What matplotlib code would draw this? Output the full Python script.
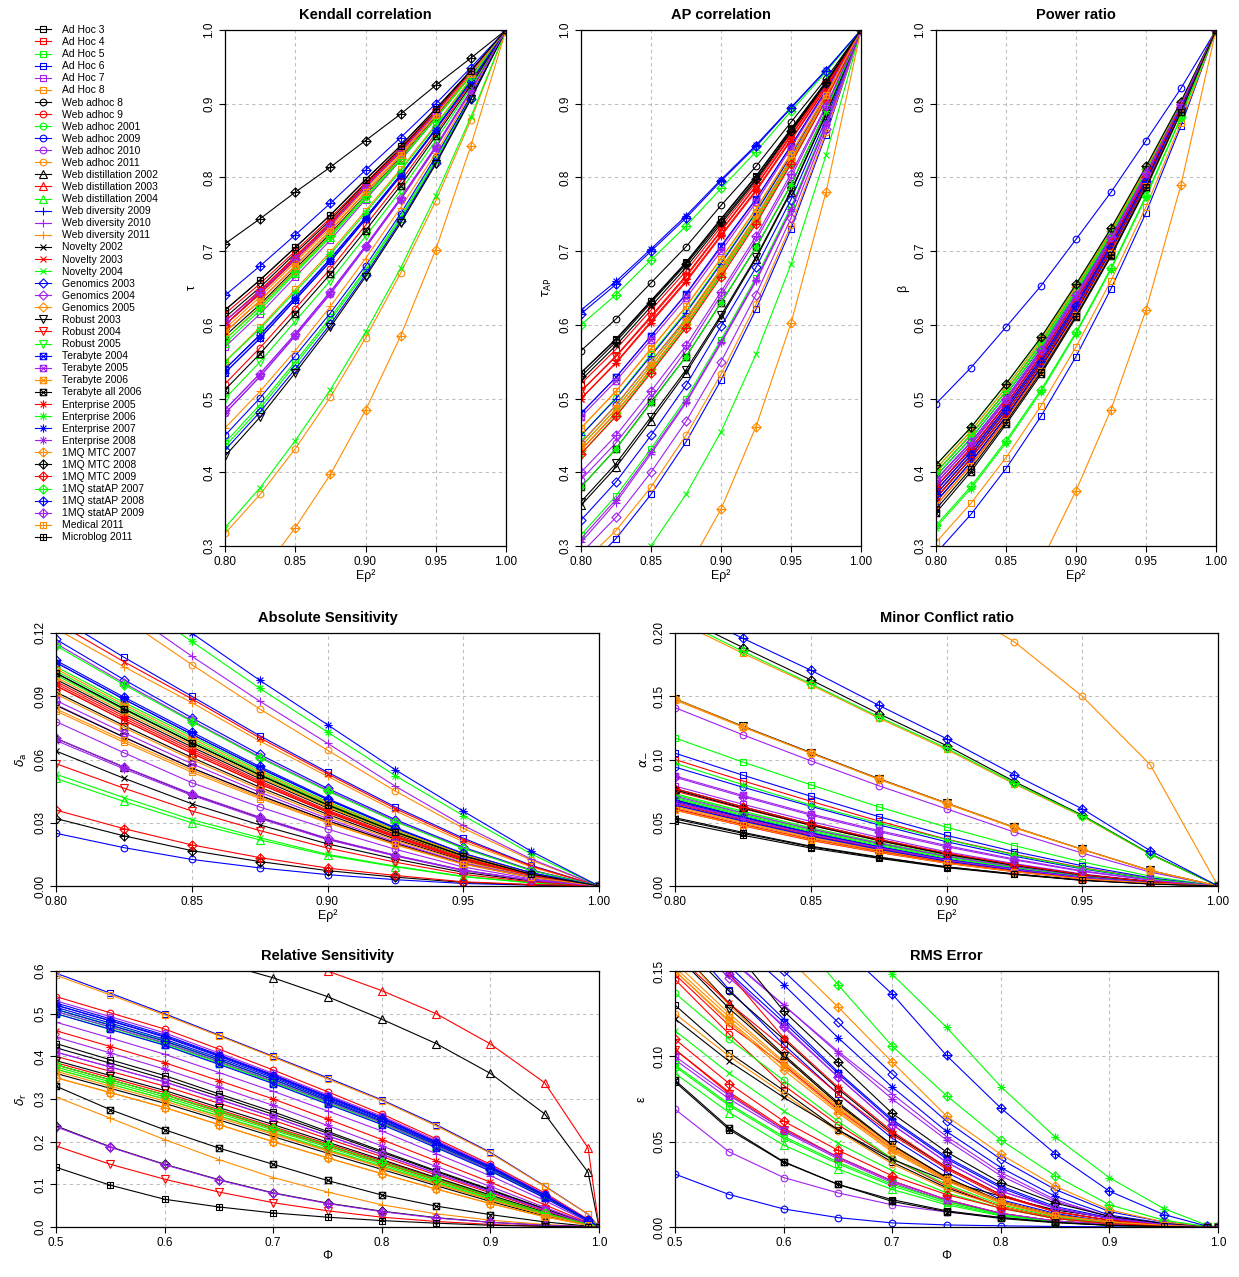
import numpy as np
import matplotlib
matplotlib.use("Agg")
import matplotlib.pyplot as plt
from matplotlib.path import Path

plt.rcParams['font.family'] = ['Liberation Sans', 'DejaVu Sans']
plt.rcParams['mathtext.fontset'] = 'dejavusans'

# ---- series (legend order) ----
names = ["Ad Hoc 3", "Ad Hoc 4", "Ad Hoc 5", "Ad Hoc 6", "Ad Hoc 7", "Ad Hoc 8",
         "Web adhoc 8", "Web adhoc 9", "Web adhoc 2001", "Web adhoc 2009", "Web adhoc 2010", "Web adhoc 2011",
         "Web distillation 2002", "Web distillation 2003", "Web distillation 2004",
         "Web diversity 2009", "Web diversity 2010", "Web diversity 2011",
         "Novelty 2002", "Novelty 2003", "Novelty 2004",
         "Genomics 2003", "Genomics 2004", "Genomics 2005",
         "Robust 2003", "Robust 2004", "Robust 2005",
         "Terabyte 2004", "Terabyte 2005", "Terabyte 2006", "Terabyte all 2006",
         "Enterprise 2005", "Enterprise 2006", "Enterprise 2007", "Enterprise 2008",
         "1MQ MTC 2007", "1MQ MTC 2008", "1MQ MTC 2009",
         "1MQ statAP 2007", "1MQ statAP 2008", "1MQ statAP 2009",
         "Medical 2011", "Microblog 2011"]
# R plotting symbol of each track
pch = [0]*6 + [1]*6 + [2]*3 + [3]*3 + [4]*3 + [5]*3 + [6]*3 + [7]*4 + [8]*4 + [9]*6 + [12]*2
palette = ["black", "red", "#00FF00", "blue", "#A020F0", "#FF8C00"]

# x grids where values were read
x_top = [0.80, 0.825, 0.85, 0.875, 0.90, 0.925, 0.95, 0.975, 1.00]
x_low = [0.5, 0.55, 0.6, 0.65, 0.7, 0.75, 0.8, 0.85, 0.9, 0.95, 0.99, 1.0]

# Kendall tau at Erho^2 = 0.800 ... 0.975 (1.0 at Erho^2 = 1)
kendall = [
    [0.620, 0.661, 0.705, 0.749, 0.797, 0.843, 0.893, 0.945],
    [0.615, 0.656, 0.700, 0.745, 0.793, 0.840, 0.890, 0.943],
    [0.440, 0.492, 0.550, 0.610, 0.675, 0.747, 0.825, 0.910],
    [0.535, 0.582, 0.634, 0.686, 0.743, 0.802, 0.865, 0.930],
    [0.570, 0.615, 0.665, 0.715, 0.770, 0.823, 0.880, 0.938],
    [0.550, 0.597, 0.648, 0.699, 0.755, 0.811, 0.872, 0.934],
    [0.585, 0.628, 0.676, 0.724, 0.776, 0.827, 0.882, 0.939],
    [0.520, 0.569, 0.622, 0.676, 0.735, 0.795, 0.860, 0.928],
    [0.435, 0.487, 0.546, 0.606, 0.672, 0.744, 0.823, 0.908],
    [0.450, 0.501, 0.558, 0.616, 0.680, 0.751, 0.828, 0.911],
    [0.480, 0.530, 0.585, 0.642, 0.705, 0.770, 0.840, 0.917],
    [0.317, 0.370, 0.432, 0.502, 0.582, 0.670, 0.768, 0.878],
    [0.600, 0.643, 0.690, 0.736, 0.787, 0.835, 0.888, 0.942],
    [0.605, 0.646, 0.692, 0.738, 0.789, 0.837, 0.889, 0.942],
    [0.575, 0.620, 0.670, 0.719, 0.772, 0.824, 0.880, 0.938],
    [0.540, 0.586, 0.637, 0.689, 0.745, 0.803, 0.866, 0.931],
    [0.485, 0.534, 0.588, 0.645, 0.707, 0.772, 0.842, 0.918],
    [0.460, 0.510, 0.565, 0.625, 0.690, 0.759, 0.833, 0.914],
    [0.610, 0.651, 0.697, 0.742, 0.792, 0.839, 0.890, 0.943],
    [0.590, 0.633, 0.680, 0.728, 0.780, 0.830, 0.885, 0.940],
    [0.325, 0.379, 0.443, 0.512, 0.590, 0.677, 0.775, 0.882],
    [0.430, 0.482, 0.540, 0.601, 0.668, 0.741, 0.820, 0.907],
    [0.485, 0.534, 0.587, 0.645, 0.707, 0.772, 0.842, 0.918],
    [0.580, 0.625, 0.674, 0.722, 0.775, 0.826, 0.881, 0.938],
    [0.422, 0.475, 0.535, 0.597, 0.665, 0.738, 0.818, 0.906],
    [0.600, 0.642, 0.688, 0.735, 0.786, 0.835, 0.888, 0.942],
    [0.500, 0.550, 0.605, 0.660, 0.720, 0.782, 0.850, 0.922],
    [0.540, 0.587, 0.638, 0.690, 0.746, 0.804, 0.866, 0.931],
    [0.600, 0.643, 0.690, 0.736, 0.787, 0.835, 0.888, 0.942],
    [0.595, 0.638, 0.685, 0.732, 0.784, 0.833, 0.886, 0.941],
    [0.512, 0.561, 0.615, 0.669, 0.728, 0.789, 0.856, 0.925],
    [0.605, 0.647, 0.693, 0.739, 0.790, 0.837, 0.889, 0.942],
    [0.550, 0.595, 0.645, 0.696, 0.752, 0.809, 0.870, 0.933],
    [0.535, 0.582, 0.634, 0.686, 0.743, 0.802, 0.865, 0.930],
    [0.480, 0.530, 0.585, 0.642, 0.705, 0.770, 0.840, 0.917],
    [0.210, 0.260, 0.325, 0.397, 0.484, 0.585, 0.702, 0.843],
    [0.710, 0.744, 0.780, 0.814, 0.850, 0.886, 0.925, 0.962],
    [0.600, 0.643, 0.690, 0.736, 0.787, 0.835, 0.888, 0.942],
    [0.580, 0.624, 0.672, 0.721, 0.775, 0.825, 0.880, 0.938],
    [0.640, 0.680, 0.722, 0.765, 0.810, 0.854, 0.900, 0.949],
    [0.605, 0.645, 0.690, 0.736, 0.787, 0.835, 0.887, 0.941],
    [0.590, 0.633, 0.680, 0.728, 0.780, 0.830, 0.885, 0.940],
    [0.620, 0.661, 0.705, 0.749, 0.797, 0.843, 0.893, 0.945]]

ap_corr = [
    [0.535, 0.580, 0.632, 0.684, 0.743, 0.801, 0.865, 0.929],
    [0.520, 0.567, 0.620, 0.673, 0.733, 0.793, 0.860, 0.927],
    [0.315, 0.368, 0.432, 0.500, 0.580, 0.664, 0.760, 0.874],
    [0.262, 0.310, 0.370, 0.441, 0.525, 0.621, 0.730, 0.858],
    [0.480, 0.529, 0.585, 0.641, 0.705, 0.770, 0.843, 0.918],
    [0.460, 0.510, 0.568, 0.625, 0.690, 0.757, 0.833, 0.913],
    [0.565, 0.608, 0.657, 0.706, 0.762, 0.815, 0.875, 0.934],
    [0.430, 0.481, 0.540, 0.601, 0.670, 0.741, 0.820, 0.906],
    [0.450, 0.501, 0.560, 0.618, 0.685, 0.753, 0.830, 0.911],
    [0.440, 0.491, 0.550, 0.608, 0.675, 0.746, 0.825, 0.908],
    [0.390, 0.440, 0.500, 0.565, 0.640, 0.715, 0.800, 0.895],
    [0.275, 0.321, 0.380, 0.450, 0.533, 0.628, 0.735, 0.861],
    [0.355, 0.407, 0.470, 0.535, 0.610, 0.690, 0.780, 0.885],
    [0.510, 0.558, 0.612, 0.667, 0.728, 0.789, 0.857, 0.925],
    [0.435, 0.486, 0.545, 0.606, 0.675, 0.745, 0.823, 0.907],
    [0.450, 0.500, 0.558, 0.616, 0.683, 0.752, 0.830, 0.911],
    [0.305, 0.359, 0.425, 0.494, 0.575, 0.659, 0.755, 0.871],
    [0.440, 0.491, 0.550, 0.609, 0.677, 0.747, 0.826, 0.909],
    [0.525, 0.572, 0.625, 0.678, 0.737, 0.796, 0.862, 0.928],
    [0.500, 0.549, 0.605, 0.660, 0.722, 0.783, 0.852, 0.922],
    [0.200, 0.242, 0.300, 0.370, 0.455, 0.560, 0.682, 0.830],
    [0.335, 0.387, 0.450, 0.518, 0.598, 0.678, 0.770, 0.879],
    [0.290, 0.339, 0.400, 0.469, 0.550, 0.641, 0.745, 0.866],
    [0.430, 0.481, 0.540, 0.601, 0.670, 0.741, 0.820, 0.906],
    [0.360, 0.412, 0.475, 0.539, 0.613, 0.692, 0.782, 0.886],
    [0.510, 0.557, 0.610, 0.665, 0.727, 0.788, 0.856, 0.925],
    [0.425, 0.477, 0.537, 0.598, 0.668, 0.740, 0.820, 0.906],
    [0.480, 0.529, 0.585, 0.642, 0.707, 0.771, 0.843, 0.918],
    [0.475, 0.524, 0.580, 0.636, 0.700, 0.766, 0.840, 0.916],
    [0.435, 0.486, 0.545, 0.605, 0.673, 0.743, 0.822, 0.907],
    [0.380, 0.432, 0.495, 0.557, 0.630, 0.705, 0.790, 0.890],
    [0.500, 0.548, 0.603, 0.658, 0.720, 0.781, 0.850, 0.921],
    [0.380, 0.432, 0.494, 0.557, 0.630, 0.705, 0.790, 0.890],
    [0.620, 0.659, 0.703, 0.748, 0.797, 0.844, 0.895, 0.946],
    [0.310, 0.363, 0.428, 0.496, 0.577, 0.661, 0.757, 0.872],
    [0.100, 0.140, 0.200, 0.265, 0.350, 0.462, 0.602, 0.780],
    [0.530, 0.577, 0.630, 0.682, 0.740, 0.798, 0.863, 0.928],
    [0.425, 0.476, 0.535, 0.596, 0.665, 0.737, 0.818, 0.905],
    [0.600, 0.641, 0.688, 0.734, 0.785, 0.835, 0.890, 0.943],
    [0.615, 0.655, 0.700, 0.745, 0.795, 0.842, 0.894, 0.945],
    [0.400, 0.450, 0.510, 0.572, 0.645, 0.720, 0.805, 0.897],
    [0.460, 0.510, 0.567, 0.625, 0.690, 0.757, 0.832, 0.912],
    [0.535, 0.581, 0.633, 0.685, 0.744, 0.802, 0.866, 0.930]]

power = [
    [0.370, 0.424, 0.485, 0.551, 0.625, 0.706, 0.795, 0.893],
    [0.365, 0.419, 0.480, 0.547, 0.622, 0.703, 0.793, 0.892],
    [0.390, 0.441, 0.500, 0.566, 0.640, 0.718, 0.805, 0.898],
    [0.290, 0.343, 0.405, 0.476, 0.557, 0.649, 0.752, 0.870],
    [0.380, 0.432, 0.492, 0.558, 0.632, 0.712, 0.800, 0.896],
    [0.305, 0.358, 0.420, 0.490, 0.570, 0.660, 0.760, 0.874],
    [0.400, 0.451, 0.510, 0.575, 0.648, 0.725, 0.810, 0.901],
    [0.385, 0.437, 0.497, 0.562, 0.636, 0.715, 0.803, 0.897],
    [0.405, 0.456, 0.515, 0.579, 0.652, 0.728, 0.812, 0.902],
    [0.493, 0.542, 0.597, 0.653, 0.716, 0.780, 0.850, 0.921],
    [0.390, 0.441, 0.500, 0.566, 0.640, 0.718, 0.805, 0.898],
    [0.360, 0.414, 0.476, 0.543, 0.618, 0.700, 0.790, 0.890],
    [0.375, 0.428, 0.488, 0.554, 0.628, 0.708, 0.797, 0.894],
    [0.380, 0.433, 0.493, 0.559, 0.633, 0.712, 0.800, 0.896],
    [0.410, 0.461, 0.520, 0.583, 0.655, 0.730, 0.814, 0.903],
    [0.395, 0.446, 0.505, 0.570, 0.644, 0.721, 0.807, 0.899],
    [0.385, 0.437, 0.497, 0.563, 0.637, 0.716, 0.803, 0.897],
    [0.400, 0.451, 0.510, 0.574, 0.647, 0.724, 0.810, 0.901],
    [0.360, 0.414, 0.475, 0.542, 0.617, 0.699, 0.790, 0.890],
    [0.355, 0.410, 0.472, 0.539, 0.615, 0.698, 0.789, 0.890],
    [0.400, 0.451, 0.510, 0.575, 0.648, 0.725, 0.810, 0.901],
    [0.380, 0.432, 0.492, 0.558, 0.632, 0.712, 0.800, 0.896],
    [0.390, 0.441, 0.500, 0.566, 0.640, 0.718, 0.805, 0.898],
    [0.405, 0.456, 0.515, 0.579, 0.652, 0.728, 0.812, 0.902],
    [0.365, 0.419, 0.480, 0.547, 0.622, 0.703, 0.793, 0.892],
    [0.370, 0.424, 0.485, 0.551, 0.625, 0.706, 0.795, 0.893],
    [0.395, 0.446, 0.505, 0.571, 0.645, 0.722, 0.807, 0.899],
    [0.360, 0.414, 0.476, 0.543, 0.618, 0.700, 0.790, 0.890],
    [0.375, 0.428, 0.488, 0.554, 0.628, 0.708, 0.797, 0.894],
    [0.370, 0.423, 0.484, 0.550, 0.625, 0.706, 0.795, 0.893],
    [0.345, 0.401, 0.465, 0.533, 0.610, 0.693, 0.785, 0.888],
    [0.365, 0.419, 0.480, 0.546, 0.621, 0.703, 0.793, 0.892],
    [0.325, 0.378, 0.440, 0.509, 0.588, 0.675, 0.773, 0.881],
    [0.375, 0.428, 0.488, 0.554, 0.628, 0.708, 0.797, 0.894],
    [0.385, 0.437, 0.497, 0.563, 0.637, 0.716, 0.803, 0.897],
    [0.080, 0.130, 0.200, 0.278, 0.375, 0.485, 0.620, 0.790],
    [0.410, 0.461, 0.520, 0.583, 0.655, 0.731, 0.815, 0.903],
    [0.380, 0.432, 0.492, 0.558, 0.632, 0.712, 0.800, 0.896],
    [0.328, 0.381, 0.443, 0.512, 0.590, 0.677, 0.775, 0.882],
    [0.370, 0.423, 0.484, 0.550, 0.625, 0.706, 0.795, 0.893],
    [0.390, 0.441, 0.500, 0.566, 0.640, 0.719, 0.806, 0.899],
    [0.355, 0.409, 0.470, 0.538, 0.614, 0.697, 0.788, 0.889],
    [0.350, 0.405, 0.468, 0.536, 0.612, 0.695, 0.787, 0.889]]

# absolute sensitivity (0 at Erho^2 = 1)
abs_sens = [
    [0.098, 0.0816, 0.066, 0.0509, 0.037, 0.0246, 0.0138, 0.0055],
    [0.095, 0.0786, 0.063, 0.0484, 0.035, 0.0231, 0.0127, 0.0051],
    [0.104, 0.0871, 0.071, 0.0549, 0.040, 0.0267, 0.0150, 0.0060],
    [0.128, 0.1085, 0.090, 0.0713, 0.054, 0.0375, 0.0227, 0.0098],
    [0.086, 0.0707, 0.056, 0.0430, 0.031, 0.0202, 0.0108, 0.0042],
    [0.083, 0.0682, 0.054, 0.0415, 0.030, 0.0195, 0.0103, 0.0040],
    [0.092, 0.0761, 0.061, 0.0469, 0.034, 0.0222, 0.0120, 0.0047],
    [0.097, 0.0806, 0.065, 0.0499, 0.036, 0.0239, 0.0133, 0.0052],
    [0.100, 0.0836, 0.068, 0.0524, 0.038, 0.0252, 0.0140, 0.0055],
    [0.025, 0.0182, 0.0126, 0.0086, 0.0054, 0.0030, 0.0012, 0.0004],
    [0.078, 0.0632, 0.049, 0.0375, 0.027, 0.0174, 0.0090, 0.0034],
    [0.150, 0.1270, 0.105, 0.0840, 0.0644, 0.0450, 0.0274, 0.0122],
    [0.070, 0.0564, 0.0435, 0.0325, 0.0224, 0.0145, 0.0075, 0.0027],
    [0.095, 0.0786, 0.063, 0.0484, 0.035, 0.0230, 0.0125, 0.0050],
    [0.051, 0.0401, 0.030, 0.0219, 0.0145, 0.0091, 0.0044, 0.0015],
    [0.106, 0.0886, 0.072, 0.0559, 0.041, 0.0274, 0.0153, 0.0062],
    [0.155, 0.1315, 0.109, 0.0877, 0.0677, 0.0473, 0.0287, 0.0128],
    [0.122, 0.1040, 0.087, 0.0688, 0.052, 0.0356, 0.0210, 0.0090],
    [0.064, 0.0511, 0.039, 0.0290, 0.020, 0.0128, 0.0065, 0.0024],
    [0.125, 0.1064, 0.0888, 0.0703, 0.0532, 0.0367, 0.0220, 0.0095],
    [0.053, 0.0419, 0.0315, 0.0229, 0.015, 0.0094, 0.0046, 0.0016],
    [0.117, 0.0979, 0.0798, 0.0624, 0.0463, 0.0315, 0.0184, 0.0076],
    [0.115, 0.0963, 0.0785, 0.0613, 0.0455, 0.0309, 0.0180, 0.0074],
    [0.091, 0.0751, 0.060, 0.0459, 0.033, 0.0216, 0.0117, 0.0046],
    [0.0857, 0.0706, 0.056, 0.0430, 0.031, 0.0202, 0.0107, 0.0042],
    [0.058, 0.0464, 0.0356, 0.0263, 0.018, 0.0113, 0.0055, 0.0020],
    [0.102, 0.0851, 0.069, 0.0534, 0.039, 0.0260, 0.0145, 0.0058],
    [0.106, 0.0886, 0.072, 0.0559, 0.041, 0.0274, 0.0153, 0.0062],
    [0.088, 0.0727, 0.058, 0.0445, 0.032, 0.0208, 0.0110, 0.0043],
    [0.099, 0.0826, 0.067, 0.0517, 0.0375, 0.0250, 0.0140, 0.0055],
    [0.101, 0.0841, 0.068, 0.0527, 0.0385, 0.0256, 0.0143, 0.0056],
    [0.096, 0.0796, 0.064, 0.0492, 0.0355, 0.0235, 0.0130, 0.0051],
    [0.162, 0.1385, 0.116, 0.0938, 0.073, 0.0523, 0.0334, 0.0152],
    [0.168, 0.1435, 0.120, 0.0976, 0.0765, 0.0551, 0.0355, 0.0165],
    [0.069, 0.0556, 0.043, 0.0320, 0.022, 0.0142, 0.0073, 0.0027],
    [0.103, 0.0861, 0.070, 0.0541, 0.0395, 0.0265, 0.0150, 0.0060],
    [0.032, 0.0238, 0.0168, 0.0116, 0.0073, 0.0042, 0.0017, 0.0006],
    [0.036, 0.0272, 0.0195, 0.0135, 0.0085, 0.0050, 0.0020, 0.0007],
    [0.114, 0.0955, 0.078, 0.0608, 0.045, 0.0305, 0.0178, 0.0073],
    [0.107, 0.0896, 0.073, 0.0567, 0.0415, 0.0277, 0.0155, 0.0063],
    [0.070, 0.0565, 0.0437, 0.0327, 0.0226, 0.0146, 0.0076, 0.0028],
    [0.084, 0.0692, 0.055, 0.0422, 0.0303, 0.0197, 0.0105, 0.0041],
    [0.101, 0.0841, 0.068, 0.0527, 0.0385, 0.0256, 0.0143, 0.0056]]

minor_conf = [
    [0.053, 0.0416, 0.031, 0.0226, 0.015, 0.0094, 0.0046, 0.0017],
    [0.100, 0.0831, 0.067, 0.0514, 0.037, 0.0250, 0.0145, 0.0058],
    [0.117, 0.0980, 0.080, 0.0626, 0.0465, 0.0319, 0.0190, 0.0078],
    [0.105, 0.0876, 0.071, 0.0549, 0.040, 0.0272, 0.0160, 0.0065],
    [0.079, 0.0646, 0.051, 0.0385, 0.027, 0.0177, 0.0095, 0.0037],
    [0.210, 0.1840, 0.159, 0.1328, 0.108, 0.0806, 0.0550, 0.0250],
    [0.068, 0.0546, 0.042, 0.0310, 0.021, 0.0135, 0.0070, 0.0026],
    [0.075, 0.0611, 0.048, 0.0360, 0.025, 0.0162, 0.0085, 0.0033],
    [0.072, 0.0581, 0.045, 0.0338, 0.0235, 0.0152, 0.0080, 0.0031],
    [0.094, 0.0781, 0.063, 0.0484, 0.035, 0.0235, 0.0135, 0.0054],
    [0.141, 0.1195, 0.099, 0.0793, 0.061, 0.0426, 0.0260, 0.0110],
    [0.330, 0.3050, 0.280, 0.2530, 0.225, 0.1930, 0.1500, 0.0960],
    [0.077, 0.0626, 0.049, 0.0368, 0.0255, 0.0167, 0.0090, 0.0035],
    [0.065, 0.0521, 0.040, 0.0295, 0.020, 0.0128, 0.0065, 0.0025],
    [0.070, 0.0566, 0.044, 0.0330, 0.023, 0.0149, 0.0078, 0.0030],
    [0.066, 0.0531, 0.041, 0.0303, 0.0205, 0.0132, 0.0068, 0.0026],
    [0.064, 0.0511, 0.039, 0.0288, 0.0195, 0.0125, 0.0064, 0.0025],
    [0.062, 0.0496, 0.038, 0.0280, 0.019, 0.0120, 0.0060, 0.0023],
    [0.054, 0.0424, 0.0315, 0.0230, 0.0152, 0.0096, 0.0047, 0.0018],
    [0.060, 0.0476, 0.036, 0.0265, 0.018, 0.0113, 0.0056, 0.0021],
    [0.073, 0.0591, 0.046, 0.0345, 0.024, 0.0155, 0.0082, 0.0032],
    [0.067, 0.0541, 0.042, 0.0310, 0.021, 0.0135, 0.0070, 0.0026],
    [0.071, 0.0576, 0.045, 0.0338, 0.0235, 0.0152, 0.0080, 0.0031],
    [0.063, 0.0506, 0.039, 0.0288, 0.0195, 0.0124, 0.0062, 0.0024],
    [0.148, 0.1263, 0.1055, 0.0849, 0.0656, 0.0464, 0.0290, 0.0123],
    [0.066, 0.0531, 0.041, 0.0303, 0.0205, 0.0131, 0.0067, 0.0026],
    [0.069, 0.0556, 0.043, 0.0320, 0.022, 0.0142, 0.0074, 0.0028],
    [0.064, 0.0514, 0.0395, 0.0291, 0.0197, 0.0126, 0.0064, 0.0025],
    [0.087, 0.0716, 0.057, 0.0439, 0.032, 0.0213, 0.0120, 0.0048],
    [0.147, 0.1255, 0.105, 0.0843, 0.065, 0.0460, 0.0288, 0.0122],
    [0.076, 0.0616, 0.048, 0.0360, 0.025, 0.0163, 0.0087, 0.0034],
    [0.061, 0.0486, 0.037, 0.0273, 0.0185, 0.0117, 0.0058, 0.0022],
    [0.097, 0.0801, 0.064, 0.0498, 0.0367, 0.0246, 0.0140, 0.0056],
    [0.068, 0.0546, 0.042, 0.0310, 0.021, 0.0135, 0.0070, 0.0026],
    [0.066, 0.0531, 0.041, 0.0303, 0.0205, 0.0132, 0.0068, 0.0026],
    [0.148, 0.1260, 0.105, 0.0846, 0.0655, 0.0464, 0.0290, 0.0123],
    [0.215, 0.1885, 0.163, 0.1363, 0.111, 0.0826, 0.0560, 0.0255],
    [0.077, 0.0626, 0.049, 0.0370, 0.026, 0.0169, 0.0090, 0.0035],
    [0.212, 0.1855, 0.160, 0.1338, 0.109, 0.0814, 0.0555, 0.0252],
    [0.222, 0.1958, 0.1706, 0.1429, 0.1165, 0.0879, 0.0610, 0.0280],
    [0.086, 0.0706, 0.056, 0.0429, 0.031, 0.0206, 0.0115, 0.0046],
    [0.060, 0.0479, 0.0365, 0.0268, 0.018, 0.0114, 0.0057, 0.0022],
    [0.051, 0.0401, 0.030, 0.0219, 0.0145, 0.0091, 0.0044, 0.0016]]

# relative sensitivity at Phi = 0.5, 0.55, ..., 0.95, 0.99 (0 at Phi = 1)
rel_sens = [
    [0.430, 0.392, 0.355, 0.312, 0.270, 0.224, 0.178, 0.132, 0.088, 0.043, 0.008],
    [0.400, 0.365, 0.330, 0.290, 0.250, 0.207, 0.165, 0.122, 0.080, 0.038, 0.007],
    [0.510, 0.473, 0.435, 0.391, 0.345, 0.297, 0.248, 0.193, 0.137, 0.072, 0.015],
    [0.595, 0.548, 0.500, 0.450, 0.400, 0.350, 0.298, 0.240, 0.175, 0.096, 0.030],
    [0.410, 0.375, 0.340, 0.299, 0.258, 0.214, 0.170, 0.126, 0.083, 0.040, 0.007],
    [0.590, 0.544, 0.497, 0.448, 0.398, 0.347, 0.296, 0.237, 0.173, 0.095, 0.030],
    [0.420, 0.384, 0.347, 0.306, 0.264, 0.220, 0.175, 0.130, 0.086, 0.042, 0.008],
    [0.540, 0.502, 0.464, 0.417, 0.368, 0.317, 0.265, 0.207, 0.147, 0.080, 0.018],
    [0.500, 0.464, 0.427, 0.383, 0.338, 0.290, 0.242, 0.188, 0.132, 0.069, 0.014],
    [0.525, 0.488, 0.450, 0.404, 0.357, 0.307, 0.257, 0.200, 0.142, 0.075, 0.016],
    [0.530, 0.493, 0.455, 0.408, 0.360, 0.310, 0.260, 0.203, 0.144, 0.077, 0.017],
    [0.370, 0.335, 0.300, 0.260, 0.220, 0.180, 0.140, 0.101, 0.064, 0.029, 0.005],
    [0.720, 0.690, 0.655, 0.620, 0.584, 0.540, 0.487, 0.430, 0.360, 0.265, 0.128],
    [0.790, 0.755, 0.720, 0.680, 0.640, 0.600, 0.554, 0.500, 0.429, 0.338, 0.185],
    [0.505, 0.468, 0.430, 0.386, 0.340, 0.293, 0.245, 0.190, 0.134, 0.070, 0.014],
    [0.515, 0.478, 0.440, 0.396, 0.350, 0.300, 0.250, 0.195, 0.138, 0.073, 0.015],
    [0.480, 0.443, 0.405, 0.362, 0.318, 0.272, 0.225, 0.172, 0.120, 0.062, 0.012],
    [0.305, 0.255, 0.205, 0.158, 0.116, 0.082, 0.052, 0.031, 0.016, 0.006, 0.001],
    [0.360, 0.325, 0.290, 0.251, 0.212, 0.173, 0.135, 0.097, 0.060, 0.026, 0.005],
    [0.385, 0.350, 0.315, 0.275, 0.235, 0.195, 0.155, 0.114, 0.073, 0.034, 0.006],
    [0.370, 0.335, 0.300, 0.261, 0.222, 0.182, 0.143, 0.104, 0.066, 0.030, 0.005],
    [0.520, 0.483, 0.445, 0.400, 0.353, 0.303, 0.253, 0.197, 0.140, 0.074, 0.016],
    [0.505, 0.469, 0.432, 0.388, 0.342, 0.294, 0.245, 0.190, 0.134, 0.070, 0.014],
    [0.350, 0.315, 0.280, 0.240, 0.200, 0.162, 0.125, 0.089, 0.055, 0.024, 0.004],
    [0.390, 0.355, 0.320, 0.280, 0.240, 0.199, 0.158, 0.116, 0.075, 0.035, 0.006],
    [0.190, 0.147, 0.112, 0.082, 0.057, 0.038, 0.023, 0.013, 0.006, 0.002, 0.000],
    [0.375, 0.340, 0.305, 0.266, 0.227, 0.187, 0.147, 0.107, 0.068, 0.031, 0.005],
    [0.500, 0.463, 0.426, 0.381, 0.336, 0.288, 0.240, 0.186, 0.131, 0.068, 0.014],
    [0.410, 0.375, 0.340, 0.299, 0.258, 0.214, 0.170, 0.126, 0.083, 0.040, 0.007],
    [0.365, 0.330, 0.295, 0.256, 0.217, 0.178, 0.140, 0.101, 0.063, 0.028, 0.005],
    [0.330, 0.275, 0.228, 0.185, 0.147, 0.109, 0.075, 0.049, 0.029, 0.012, 0.002],
    [0.460, 0.423, 0.385, 0.343, 0.300, 0.253, 0.205, 0.155, 0.105, 0.052, 0.010],
    [0.510, 0.474, 0.437, 0.392, 0.346, 0.297, 0.248, 0.193, 0.137, 0.072, 0.015],
    [0.520, 0.484, 0.447, 0.402, 0.355, 0.305, 0.255, 0.199, 0.141, 0.075, 0.016],
    [0.445, 0.408, 0.370, 0.328, 0.285, 0.238, 0.190, 0.142, 0.095, 0.046, 0.009],
    [0.380, 0.345, 0.310, 0.270, 0.230, 0.190, 0.150, 0.110, 0.070, 0.032, 0.006],
    [0.237, 0.188, 0.147, 0.111, 0.080, 0.056, 0.037, 0.022, 0.011, 0.004, 0.001],
    [0.380, 0.345, 0.310, 0.271, 0.231, 0.191, 0.151, 0.111, 0.071, 0.033, 0.006],
    [0.380, 0.345, 0.310, 0.272, 0.232, 0.192, 0.152, 0.112, 0.072, 0.033, 0.006],
    [0.510, 0.473, 0.436, 0.392, 0.346, 0.297, 0.248, 0.193, 0.137, 0.072, 0.015],
    [0.235, 0.187, 0.146, 0.110, 0.079, 0.055, 0.036, 0.021, 0.011, 0.004, 0.001],
    [0.350, 0.315, 0.280, 0.240, 0.200, 0.162, 0.125, 0.089, 0.055, 0.024, 0.004],
    [0.140, 0.098, 0.065, 0.047, 0.033, 0.023, 0.015, 0.009, 0.004, 0.0015, 0.000]]

# RMS error at the same Phi values
rms = [
    [0.130, 0.102, 0.080, 0.057, 0.038, 0.023, 0.012, 0.005, 0.002, 0.0005, 0.0],
    [0.148, 0.118, 0.095, 0.069, 0.046, 0.028, 0.015, 0.007, 0.003, 0.001, 0.0],
    [0.094, 0.071, 0.052, 0.037, 0.024, 0.014, 0.007, 0.003, 0.001, 0.0003, 0.0],
    [0.175, 0.139, 0.107, 0.078, 0.052, 0.032, 0.016, 0.008, 0.003, 0.001, 0.0],
    [0.098, 0.075, 0.056, 0.040, 0.026, 0.015, 0.008, 0.0035, 0.0015, 0.0004, 0.0],
    [0.155, 0.125, 0.097, 0.071, 0.047, 0.029, 0.015, 0.007, 0.003, 0.001, 0.0],
    [0.170, 0.138, 0.110, 0.081, 0.055, 0.035, 0.019, 0.009, 0.004, 0.0012, 0.0],
    [0.145, 0.113, 0.083, 0.060, 0.040, 0.024, 0.012, 0.0055, 0.002, 0.0006, 0.0],
    [0.137, 0.110, 0.086, 0.062, 0.040, 0.025, 0.013, 0.006, 0.0025, 0.0007, 0.0],
    [0.031, 0.019, 0.0106, 0.0055, 0.0024, 0.0012, 0.0007, 0.0003, 0.0001, 0.0, 0.0],
    [0.069, 0.044, 0.029, 0.020, 0.013, 0.0088, 0.0057, 0.003, 0.0015, 0.0004, 0.0],
    [0.125, 0.100, 0.078, 0.056, 0.037, 0.022, 0.012, 0.005, 0.002, 0.0006, 0.0],
    [0.165, 0.131, 0.101, 0.073, 0.048, 0.029, 0.015, 0.007, 0.003, 0.001, 0.0],
    [0.104, 0.079, 0.058, 0.041, 0.027, 0.016, 0.008, 0.0035, 0.0015, 0.0004, 0.0],
    [0.090, 0.067, 0.048, 0.034, 0.022, 0.013, 0.0065, 0.003, 0.001, 0.0003, 0.0],
    [0.185, 0.153, 0.122, 0.091, 0.063, 0.041, 0.024, 0.012, 0.0055, 0.0017, 0.0],
    [0.185, 0.158, 0.130, 0.103, 0.078, 0.053, 0.032, 0.016, 0.006, 0.002, 0.0],
    [0.165, 0.130, 0.100, 0.072, 0.048, 0.029, 0.015, 0.007, 0.003, 0.001, 0.0],
    [0.122, 0.097, 0.076, 0.057, 0.0397, 0.027, 0.018, 0.010, 0.0053, 0.0015, 0.0],
    [0.160, 0.131, 0.105, 0.078, 0.054, 0.034, 0.018, 0.009, 0.004, 0.0012, 0.0],
    [0.115, 0.090, 0.068, 0.049, 0.033, 0.020, 0.011, 0.005, 0.002, 0.0006, 0.0],
    [0.200, 0.175, 0.150, 0.120, 0.0897, 0.062, 0.0397, 0.022, 0.009, 0.003, 0.0002],
    [0.175, 0.146, 0.118, 0.088, 0.060, 0.038, 0.021, 0.011, 0.005, 0.0015, 0.0],
    [0.150, 0.120, 0.092, 0.067, 0.044, 0.027, 0.014, 0.0065, 0.003, 0.001, 0.0],
    [0.160, 0.128, 0.100, 0.072, 0.048, 0.029, 0.015, 0.007, 0.003, 0.001, 0.0],
    [0.104, 0.078, 0.057, 0.041, 0.027, 0.016, 0.008, 0.0035, 0.0015, 0.0004, 0.0],
    [0.095, 0.072, 0.053, 0.038, 0.025, 0.015, 0.0075, 0.0033, 0.0013, 0.0004, 0.0],
    [0.180, 0.149, 0.120, 0.090, 0.062, 0.040, 0.023, 0.011, 0.005, 0.0016, 0.0],
    [0.100, 0.077, 0.057, 0.041, 0.027, 0.016, 0.008, 0.0035, 0.0015, 0.0004, 0.0],
    [0.150, 0.121, 0.094, 0.068, 0.045, 0.027, 0.014, 0.0065, 0.003, 0.001, 0.0],
    [0.086, 0.058, 0.0383, 0.025, 0.015, 0.009, 0.005, 0.0025, 0.001, 0.0003, 0.0],
    [0.188, 0.148, 0.111, 0.082, 0.056, 0.035, 0.019, 0.009, 0.004, 0.0012, 0.0],
    [0.270, 0.240, 0.210, 0.180, 0.148, 0.117, 0.0823, 0.0528, 0.0289, 0.0108, 0.001],
    [0.195, 0.170, 0.142, 0.111, 0.082, 0.056, 0.0348, 0.018, 0.007, 0.0022, 0.0001],
    [0.185, 0.157, 0.130, 0.102, 0.075, 0.051, 0.030, 0.015, 0.006, 0.0018, 0.0],
    [0.210, 0.185, 0.160, 0.129, 0.0966, 0.065, 0.0426, 0.024, 0.010, 0.003, 0.0002],
    [0.210, 0.166, 0.1266, 0.0966, 0.0666, 0.044, 0.026, 0.014, 0.0063, 0.002, 0.0001],
    [0.110, 0.084, 0.062, 0.045, 0.030, 0.019, 0.011, 0.005, 0.002, 0.0006, 0.0],
    [0.250, 0.215, 0.180, 0.142, 0.106, 0.077, 0.051, 0.030, 0.013, 0.004, 0.0003],
    [0.260, 0.230, 0.200, 0.166, 0.1365, 0.1005, 0.0697, 0.043, 0.021, 0.0073, 0.0005],
    [0.180, 0.148, 0.117, 0.088, 0.060, 0.038, 0.021, 0.011, 0.005, 0.0015, 0.0],
    [0.152, 0.123, 0.096, 0.070, 0.046, 0.028, 0.015, 0.007, 0.003, 0.001, 0.0],
    [0.085, 0.057, 0.038, 0.025, 0.016, 0.0095, 0.0055, 0.0028, 0.001, 0.0003, 0.0]]


# ---- R style plotting symbols ----
def build_path(shapes, segs):
    verts, codes = [], []
    for s in shapes:
        verts += s + [s[0]]
        codes += [Path.MOVETO] + [Path.LINETO] * (len(s) - 1) + [Path.CLOSEPOLY]
    for a, b in segs:
        verts += [a, b]
        codes += [Path.MOVETO, Path.LINETO]
    return Path(verts, codes)

SQ = [(-1, -1), (1, -1), (1, 1), (-1, 1)]
DIA = [(0, -1), (1, 0), (0, 1), (-1, 0)]
PLUS = [((-1, 0), (1, 0)), ((0, -1), (0, 1))]
CROSS = [((-1, -1), (1, 1)), ((-1, 1), (1, -1))]
CROSS7 = [((-0.7, -0.7), (0.7, 0.7)), ((-0.7, 0.7), (0.7, -0.7))]

symbols = {
    0: (build_path([SQ], []), 4.6),
    1: ('o', 4.8),
    2: ('^', 5.4),
    3: ('+', 6.0),
    4: ('x', 4.6),
    5: (build_path([DIA], []), 6.6),
    6: ('v', 5.4),
    7: (build_path([SQ], CROSS), 4.6),
    8: (build_path([], PLUS + CROSS7), 6.0),
    9: (build_path([DIA], PLUS), 6.6),
    12: (build_path([SQ], PLUS), 4.6),
}

W, H = 1239, 1277


def rect(x0, y0, x1, y1):
    return [x0 / W, 1 - y1 / H, (x1 - x0) / W, (y1 - y0) / H]


def style(i):
    m, ms = symbols[pch[i]]
    c = palette[i % 6]
    return dict(color=c, lw=0.8, marker=m, ms=ms, mfc='none', mec=c, mew=0.8)


fig = plt.figure(figsize=(W / 100, H / 100), dpi=100)

panels = [
    (rect(225, 30, 506, 546), "Kendall correlation", kendall, x_top, 1.0, (0.8, 1.0), (0.3, 1.0),
     [0.80, 0.85, 0.90, 0.95, 1.00], np.arange(0.3, 1.01, 0.1), "{:.2f}", "{:.1f}", "Eρ²", "τ"),
    (rect(581, 30, 861, 546), "AP correlation", ap_corr, x_top, 1.0, (0.8, 1.0), (0.3, 1.0),
     [0.80, 0.85, 0.90, 0.95, 1.00], np.arange(0.3, 1.01, 0.1), "{:.2f}", "{:.1f}", "Eρ²", r"$\tau_{\mathrm{AP}}$"),
    (rect(936, 30, 1216, 546), "Power ratio", power, x_top, 1.0, (0.8, 1.0), (0.3, 1.0),
     [0.80, 0.85, 0.90, 0.95, 1.00], np.arange(0.3, 1.01, 0.1), "{:.2f}", "{:.1f}", "Eρ²", "β"),
    (rect(56, 633, 599, 886), "Absolute Sensitivity", abs_sens, x_top, 0.0, (0.8, 1.0), (0.0, 0.12),
     [0.80, 0.85, 0.90, 0.95, 1.00], [0.0, 0.03, 0.06, 0.09, 0.12], "{:.2f}", "{:.2f}", "Eρ²", r"$\delta_{\mathrm{a}}$"),
    (rect(675, 633, 1218, 886), "Minor Conflict ratio", minor_conf, x_top, 0.0, (0.8, 1.0), (0.0, 0.20),
     [0.80, 0.85, 0.90, 0.95, 1.00], [0.0, 0.05, 0.10, 0.15, 0.20], "{:.2f}", "{:.2f}", "Eρ²", r"$\alpha_{-}$"),
    (rect(56, 971, 599, 1227), "Relative Sensitivity", rel_sens, x_low, 0.0, (0.5, 1.0), (0.0, 0.6),
     np.arange(0.5, 1.01, 0.1), np.arange(0.0, 0.61, 0.1), "{:.1f}", "{:.1f}", "Φ", r"$\delta_{\mathrm{r}}$"),
    (rect(675, 971, 1218, 1227), "RMS Error", rms, x_low, 0.0, (0.5, 1.0), (0.0, 0.15),
     np.arange(0.5, 1.01, 0.1), [0.0, 0.05, 0.10, 0.15], "{:.1f}", "{:.2f}", "Φ", "ε"),
]

handles = []
for k, (r, title, data, xg, end, xl, yl, xt, yt, xf, yf, xlab, ylab) in enumerate(panels):
    ax = fig.add_axes(r)
    ax.set_axisbelow(True)
    ax.grid(True, color='#BEBEBE', linestyle=(0, (3, 3)), linewidth=0.8)
    for i, row in enumerate(data):
        ln, = ax.plot(xg, list(row) + [end], **style(i))
        if k == 0:
            handles.append(ln)
    ax.set_xlim(*xl)
    ax.set_ylim(*yl)
    ax.set_xticks(xt)
    ax.set_xticklabels([xf.format(v) for v in xt])
    ax.set_yticks(yt)
    ax.set_yticklabels([yf.format(v) for v in yt])
    ax.tick_params(direction='out', length=4, width=0.8, labelsize=8.5, pad=3)
    ax.tick_params(axis='y', labelrotation=90)
    for lab in ax.get_yticklabels():
        lab.set_va('center')
    for sp in ax.spines.values():
        sp.set_linewidth(0.9)
        sp.set_color('black')
    ax.set_title(title, fontsize=10.5, fontweight='bold', pad=8)
    ax.set_xlabel(xlab, fontsize=9, labelpad=1)
    ax.set_ylabel(ylab, fontsize=9, labelpad=4)

fig.legend(handles, names, loc='upper left', bbox_to_anchor=(35 / W, 1 - 25 / H),
           frameon=False, fontsize=7.5, numpoints=1, handlelength=1.5, handletextpad=1.1,
           labelspacing=0.2, borderaxespad=0, borderpad=0)

fig.savefig("out.png", dpi=100)
